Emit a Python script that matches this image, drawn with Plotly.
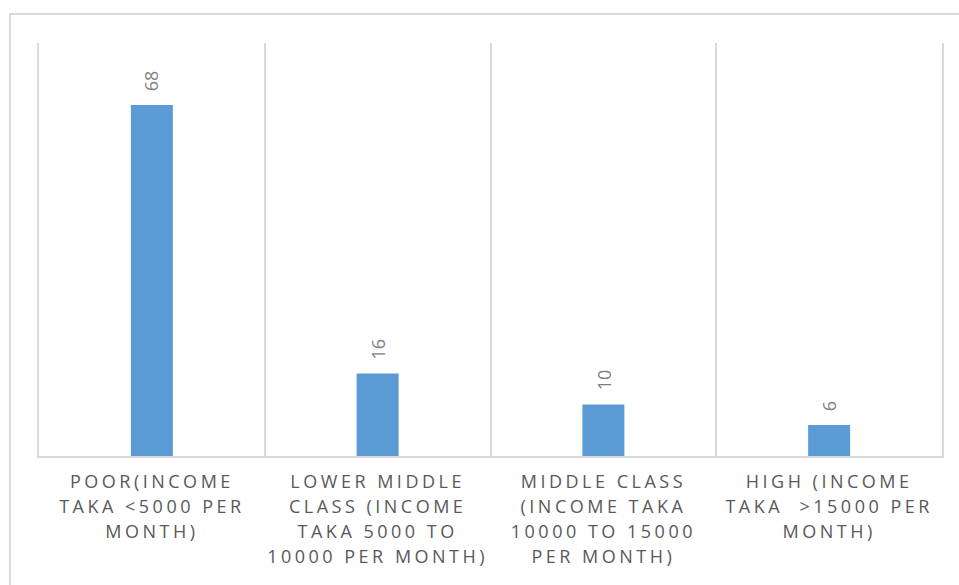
import plotly.graph_objects as go

categories = [
    "POOR(INCOME<br>TAKA &lt;5000 PER<br>MONTH)",
    "LOWER MIDDLE<br>CLASS (INCOME<br>TAKA 5000 TO<br>10000 PER MONTH)",
    "MIDDLE CLASS<br>(INCOME TAKA<br>10000 TO 15000<br>PER MONTH)",
    "HIGH (INCOME<br>TAKA \u00a0&gt;15000 PER<br>MONTH)",
]
values = [68, 16, 10, 6]
value_labels = ["68", "16", "10", "6"]

W, H = 959, 585
L, R, T, B = 39, 17, 43, 129
pw, ph = W - L - R, H - T - B

fig = go.Figure()
fig.add_trace(go.Bar(
    x=categories, y=values,
    marker=dict(color="#5b9bd5", line=dict(width=0)),
    hoverinfo="skip",
))

for c, v, t in zip(categories, values, value_labels):
    fig.add_annotation(
        x=c, y=v, text=t, showarrow=False, textangle=-90,
        yanchor="bottom", yshift=12,
        font=dict(family="Open Sans", size=18, color="#7f7f7f"),
    )

# outer chart border
fig.add_shape(
    type="rect", xref="paper", yref="paper",
    x0=(10 - L) / pw, x1=(970 - L) / pw,
    y0=(H - B - 610) / ph, y1=(H - B - 14) / ph,
    line=dict(color="#d9d9d9", width=2), fillcolor="rgba(0,0,0,0)",
    layer="below",
)

fig.update_layout(
    width=W, height=H,
    margin=dict(l=L, r=R, t=T, b=B),
    paper_bgcolor="white", plot_bgcolor="white",
    bargap=0.814,
    showlegend=False,
    xaxis=dict(
        type="category",
        range=[-0.5, 3.5],
        tickson="boundaries",
        showgrid=True, gridcolor="#d9d9d9", gridwidth=2,
        showline=True, linecolor="#d9d9d9", linewidth=2,
        ticks="", ticklabelstandoff=8,
        tickfont=dict(family="Open Sans", size=18, color="#595959"),
        zeroline=False,
    ),
    yaxis=dict(
        range=[0, 80], showticklabels=False, ticks="",
        showgrid=False, zeroline=False,
        showline=True, mirror=True, linecolor="#d9d9d9", linewidth=2,
    ),
)

post = """
document.body.style.margin = '0';
var st = document.createElement('style');
st.innerHTML = '.xtick text { letter-spacing: 3.5px; }';
document.head.appendChild(st);
document.querySelectorAll('.xtick text').forEach(function(t){
  t.querySelectorAll('tspan.line').forEach(function(s, i){
    s.setAttribute('dy', (i * 1.4) + 'em');
  });
});
"""

fig.write_html("out.html", post_script=post, config={"displayModeBar": False})
